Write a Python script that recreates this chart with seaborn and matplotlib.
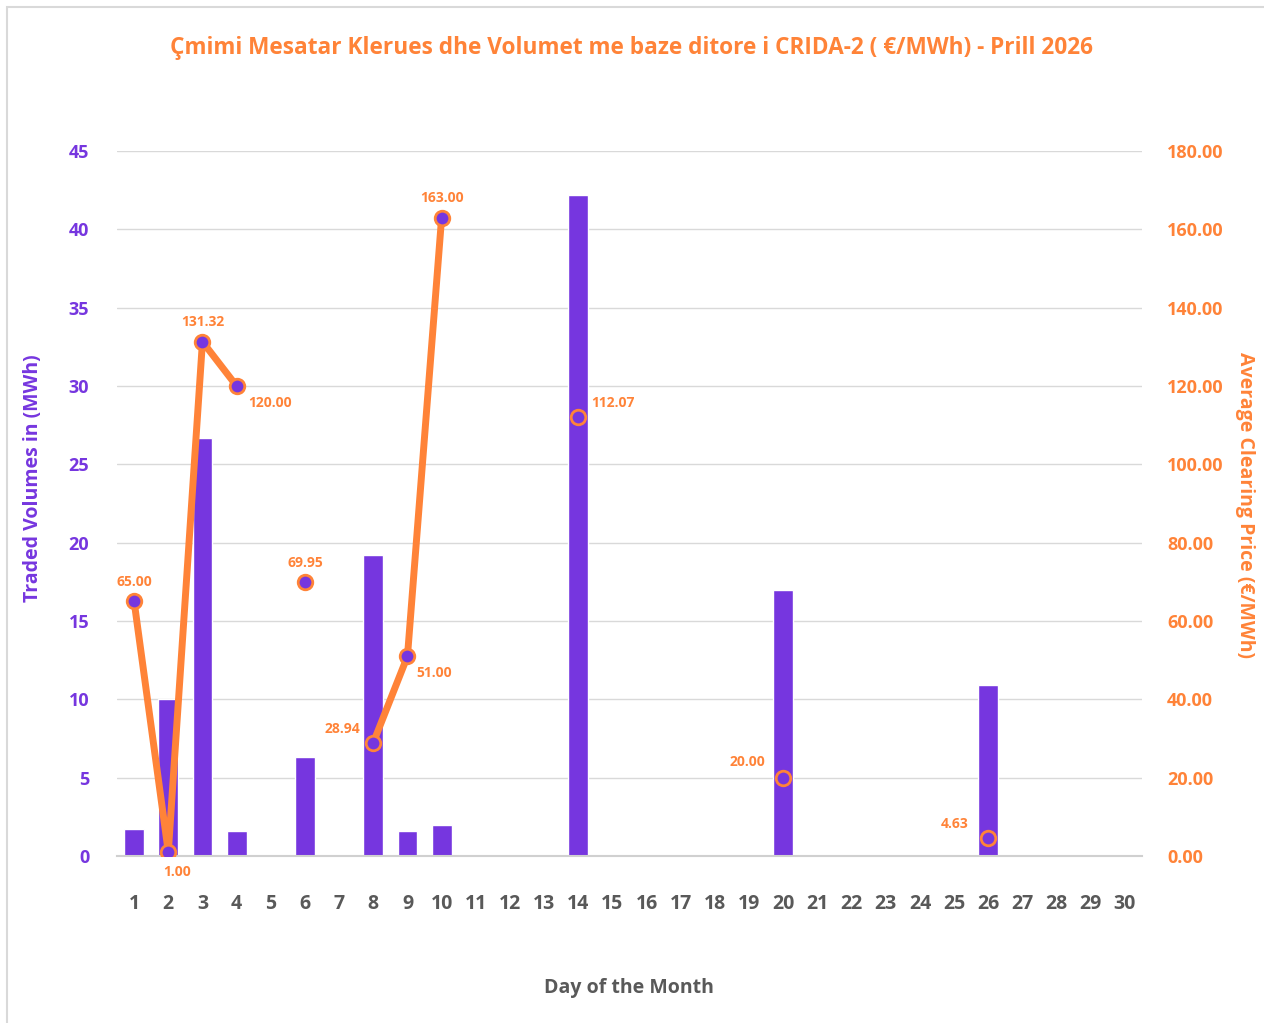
import numpy as np
import pandas as pd
import matplotlib
matplotlib.use('Agg')
import matplotlib.pyplot as plt
import seaborn as sns
from matplotlib.patches import Rectangle

# Data
days = list(range(1, 31))
volume_days = [1, 2, 3, 4, 6, 8, 9, 10, 14, 20, 26]
volumes = [1.7, 10.0, 26.7, 1.6, 6.3, 19.2, 1.6, 2.0, 42.2, 17.0, 10.9]
prices = [65.00, 1.00, 131.32, 120.00, 69.95, 28.94, 51.00, 163.00, 112.07, 20.00, 4.63]

# label placement (points offset) for each price label
label_offsets = {1: (0, 14), 2: (6, -14), 3: (0, 14), 4: (24, -12), 6: (0, 14),
                 8: (-22, 10), 9: (19, -12), 10: (0, 14), 14: (25, 10),
                 20: (-26, 11), 26: (-24, 10)}

purple = '#7636DF'
orange = '#FF8338'
gray_text = '#595959'

vol_map = dict(zip(volume_days, volumes))
price_map = dict(zip(volume_days, prices))
df = pd.DataFrame({'Day': [str(d) for d in days],
                   'Volume': [vol_map.get(d, 0) for d in days],
                   'Price': [price_map.get(d, np.nan) for d in days]})

sns.set_style('white')
plt.rcParams['font.family'] = ['Open Sans', 'DejaVu Sans']

fig = plt.figure(figsize=(12.64, 10.23), dpi=100)
ax = fig.add_axes([0.0926, 0.1632, 0.8109, 0.6892])

sns.barplot(data=df, x='Day', y='Volume', color=purple, width=0.58,
            saturation=1, ax=ax, zorder=2)
ax.set_ylim(0, 45)
ax.set_xlim(-0.5, 29.5)
ax.set_yticks(range(0, 46, 5))
ax.yaxis.grid(True, color='#D9D9D9', linewidth=1, zorder=0)
ax.set_axisbelow(True)
for s in ['top', 'right', 'left']:
    ax.spines[s].set_visible(False)
ax.spines['bottom'].set_color('#D0D0D0')
ax.spines['bottom'].set_linewidth(1.5)
ax.tick_params(axis='y', colors=purple, labelsize=13, length=0, pad=20)
ax.tick_params(axis='x', colors=gray_text, labelsize=14, length=0, pad=27)
for t in ax.get_yticklabels():
    t.set_fontweight('bold')
for t in ax.get_xticklabels():
    t.set_fontweight('bold')
ax.set_xlabel('')
ax.set_ylabel('')

ax2 = ax.twinx()
x = np.arange(len(days))
ax2.plot(x, df['Price'], color=orange, linewidth=5, zorder=3, solid_capstyle='round')
ax2.scatter(x, df['Price'], s=110, color=purple, edgecolor=orange, linewidth=2, zorder=4)
ax2.set_ylim(0, 180)
ax2.set_yticks(range(0, 181, 20))
ax2.set_yticklabels([f'{v:.2f}' for v in range(0, 181, 20)])
for s in ['top', 'right', 'left', 'bottom']:
    ax2.spines[s].set_visible(False)
ax2.tick_params(axis='y', colors=orange, labelsize=13, length=0, pad=18)
for t in ax2.get_yticklabels():
    t.set_fontweight('bold')

for d, p in zip(volume_days, prices):
    dx, dy = label_offsets[d]
    ax2.annotate(f'{p:.2f}', (d - 1, p), xytext=(dx, dy), textcoords='offset points',
                 ha='center', va='center', color=orange, fontsize=10, fontweight='bold')

fig.text(0.5, 0.953, 'Çmimi Mesatar Klerues dhe Volumet me baze ditore i CRIDA-2 ( €/MWh) - Prill 2026',
         ha='center', va='center', color=orange, fontsize=16.3, fontweight='bold')
fig.text(629 / 1264, 1 - 988 / 1023, 'Day of the Month', ha='center', va='center',
         color=gray_text, fontsize=14, fontweight='bold')
fig.text(33 / 1264, 1 - 478 / 1023, 'Traded Volumes in (MWh)', ha='center', va='center',
         rotation=90, color=purple, fontsize=14, fontweight='bold')
fig.text(1245 / 1264, 1 - 505 / 1023, 'Average Clearing Price (€/MWh)', ha='center', va='center',
         rotation=-90, color=orange, fontsize=14, fontweight='bold')

fig.patches.append(Rectangle((0.0055, -0.01), 1.2, 1.003, transform=fig.transFigure,
                             fill=False, edgecolor='#D9D9D9', linewidth=1.5))

fig.savefig('out.png', dpi=100)
